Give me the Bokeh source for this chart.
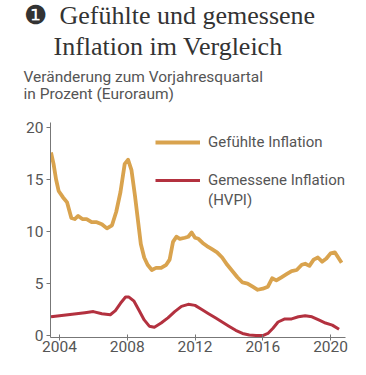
from bokeh.plotting import figure
from bokeh.models import Title, Legend, LegendItem, FixedTicker, Range1d
from bokeh.embed import file_html
from bokeh.resources import INLINE

# --- data ---
felt_year = [2003.5, 2003.65, 2003.8, 2003.95, 2004.2, 2004.45, 2004.7, 2004.9, 2005.1, 2005.35,
             2005.6, 2005.9, 2006.2, 2006.5, 2006.8, 2007.1, 2007.35, 2007.6, 2007.85, 2008.05,
             2008.25, 2008.45, 2008.6, 2008.8, 2009.0, 2009.2, 2009.45, 2009.7, 2010.0, 2010.3,
             2010.5, 2010.7, 2010.9, 2011.1, 2011.4, 2011.6, 2011.8, 2012.0, 2012.2, 2012.45,
             2012.7, 2013.0, 2013.3, 2013.6, 2013.9, 2014.2, 2014.5, 2014.8, 2015.1, 2015.4,
             2015.7, 2016.0, 2016.3, 2016.55, 2016.8, 2017.1, 2017.4, 2017.7, 2018.0, 2018.3,
             2018.5, 2018.75, 2019.0, 2019.25, 2019.5, 2019.75, 2020.0, 2020.25, 2020.45, 2020.65]
felt_value = [17.6, 16.5, 15.0, 13.9, 13.3, 12.8, 11.3, 11.2, 11.5, 11.2,
              11.2, 10.9, 10.9, 10.7, 10.3, 10.6, 11.9, 13.8, 16.5, 16.9,
              15.9, 13.5, 11.5, 8.8, 7.5, 6.8, 6.3, 6.5, 6.5, 6.8,
              7.3, 9.0, 9.5, 9.3, 9.4, 9.5, 9.9, 9.4, 9.3, 8.9,
              8.6, 8.3, 8.0, 7.5, 6.8, 6.2, 5.6, 5.1, 5.0, 4.7,
              4.4, 4.5, 4.7, 5.5, 5.3, 5.6, 5.9, 6.2, 6.3, 6.8,
              6.9, 6.7, 7.3, 7.5, 7.1, 7.4, 7.9, 8.0, 7.5, 7.0]

hicp_year = [2003.5, 2004.0, 2004.5, 2005.0, 2005.5, 2006.0, 2006.5, 2007.0, 2007.3, 2007.6,
             2007.9, 2008.1, 2008.4, 2008.7, 2009.0, 2009.3, 2009.6, 2010.0, 2010.4, 2010.8,
             2011.2, 2011.6, 2012.0, 2012.4, 2012.8, 2013.2, 2013.6, 2014.0, 2014.4, 2014.8,
             2015.2, 2015.6, 2016.0, 2016.3, 2016.6, 2016.9, 2017.3, 2017.7, 2018.1, 2018.5,
             2018.9, 2019.3, 2019.7, 2020.1, 2020.5]
hicp_value = [1.8, 1.9, 2.0, 2.1, 2.2, 2.3, 2.1, 2.0, 2.4, 3.1,
              3.7, 3.7, 3.3, 2.4, 1.5, 0.9, 0.8, 1.2, 1.7, 2.3,
              2.8, 3.0, 2.9, 2.5, 2.1, 1.7, 1.3, 0.9, 0.5, 0.2,
              0.05, 0.0, 0.0, 0.2, 0.7, 1.3, 1.6, 1.6, 1.8, 1.9,
              1.8, 1.5, 1.2, 1.0, 0.6]

x_ticks = [2004, 2008, 2012, 2016, 2020]
y_ticks = [0, 5, 10, 15, 20]

title_line1 = "\u2776\u2002Gefühlte und gemessene"
title_line2 = "Inflation im Vergleich"
sub_line1 = "Veränderung zum Vorjahresquartal"
sub_line2 = "in Prozent (Euroraum)"
felt_label = "Gefühlte Inflation"
hicp_label1 = "Gemessene Inflation"
hicp_label2 = "(HVPI)"

ORANGE = "#d9a34e"
RED = "#b3313f"
GREY = "#555555"
SANS = "Roboto"
SERIF = "Liberation Serif"

p = figure(width=350, height=359, output_backend="svg", toolbar_location=None,
           x_range=Range1d(2003.47, 2020.88), y_range=Range1d(-0.19, 20.48),
           min_border_left=50, min_border_right=5, min_border_top=122, min_border_bottom=22)
p.title = None
p.outline_line_color = None
p.grid.visible = False
p.background_fill_color = "white"
p.border_fill_color = "white"

# titles (added innermost first); the first is an empty spacer
for txt, size, font, off, stand, col in [
    (" ", "1px", SANS, 0, 19, GREY),
    (sub_line2, "15.5px", SANS, -27, -4, GREY),
    (sub_line1, "15.5px", SANS, -27, -2, GREY),
    (title_line2, "26px", SERIF, 3, 12, "#333333"),
    (title_line1, "26px", SERIF, -27, -12, "#333333"),
]:
    t = Title(text=txt, align="left", offset=off, standoff=stand,
              text_font=font, text_font_size=size, text_color=col, text_font_style="normal")
    p.add_layout(t, "above")

felt = p.line(felt_year, felt_value, line_color=ORANGE, line_width=3.8, line_join="round")
hicp = p.line(hicp_year, hicp_value, line_color=RED, line_width=3, line_join="round")
blank = p.line([], [], line_alpha=0)

legend = Legend(items=[
    LegendItem(label=felt_label, renderers=[felt]),
    LegendItem(label=" ", renderers=[blank]),
    LegendItem(label=hicp_label1, renderers=[hicp]),
    LegendItem(label=hicp_label2, renderers=[blank]),
], location=(105, 128), padding=0, margin=0, spacing=2, label_height=16, glyph_height=16,
    glyph_width=45, label_standoff=8, border_line_color=None, background_fill_alpha=0,
    label_text_font=SANS, label_text_font_size="15px", label_text_color=GREY)
p.add_layout(legend, "center")

for ax in (p.xaxis[0], p.yaxis[0]):
    ax.axis_line_color = "#777777"
    ax.major_tick_line_color = "#777777"
    ax.minor_tick_line_color = None
    ax.major_label_text_font = SANS
    ax.major_label_text_font_size = "15.5px"
    ax.major_label_text_color = GREY
p.xaxis.ticker = FixedTicker(ticks=x_ticks)
p.yaxis.ticker = FixedTicker(ticks=y_ticks)
p.xaxis.major_tick_in = 3
p.xaxis.major_tick_out = 3
p.yaxis.major_tick_in = 0
p.yaxis.major_tick_out = 4
p.xaxis.major_label_standoff = 0
p.yaxis.major_label_standoff = 3

open("out.html", "w").write(file_html(p, INLINE))
